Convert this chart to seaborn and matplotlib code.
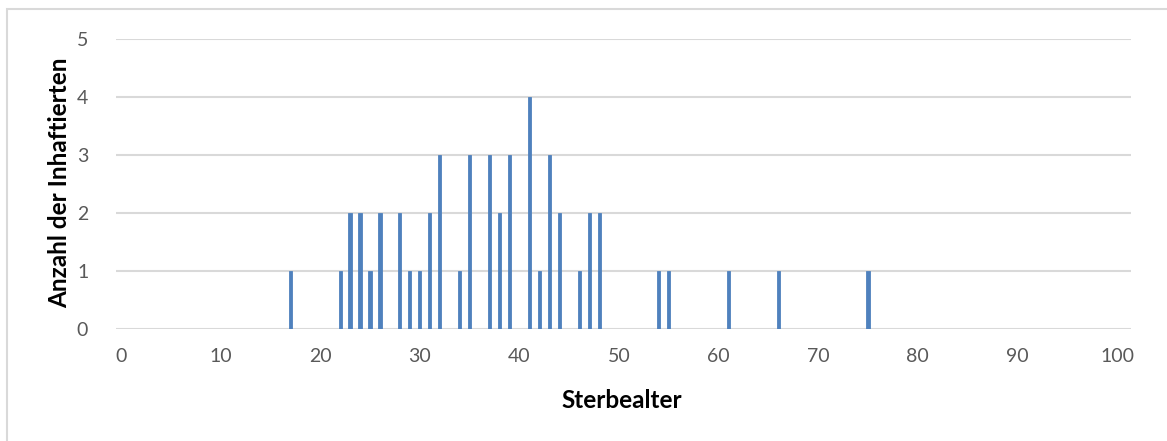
import matplotlib
matplotlib.use("Agg")
import matplotlib.pyplot as plt
import seaborn as sns
import pandas as pd
from matplotlib.patches import Rectangle

ages = [17, 22, 23, 24, 25, 26, 28, 29, 30, 31, 32, 34, 35, 37, 38, 39,
        41, 42, 43, 44, 46, 47, 48, 54, 55, 61, 66, 75]
counts = [1, 1, 2, 2, 1, 2, 2, 1, 1, 2, 3, 1, 3, 3, 2, 3,
          4, 1, 3, 2, 1, 2, 2, 1, 1, 1, 1, 1]
x_ticks = list(range(0, 101, 10))
y_ticks = [0, 1, 2, 3, 4, 5]
x_label = "Sterbealter"
y_label = "Anzahl der Inhaftierten"

sns.set_theme(style="white")
plt.rcParams['font.family'] = ['Lato', 'DejaVu Sans']

W, H = 1167, 441
fig = plt.figure(figsize=(W / 100, H / 100), dpi=100)
ax = fig.add_axes([116 / W, 1 - 329 / H, (1131 - 116) / W, (329 - 39) / H])

df = pd.DataFrame({"age": ages, "count": counts})
sns.barplot(data=df, x="age", y="count", native_scale=True, width=0.32,
            color="#4F81BD", saturation=1, ax=ax, zorder=3,
            edgecolor="#4F81BD", linewidth=0.6)

ax.set_xlim(-0.5, 101.4)
ax.set_ylim(0, 5)
ax.set_xticks(x_ticks)
ax.set_yticks(y_ticks)
ax.set_xticklabels([str(v) for v in x_ticks])
ax.set_yticklabels([str(v) for v in y_ticks])
ax.yaxis.grid(True, color="#D9D9D9", linewidth=1.5, zorder=0)
ax.xaxis.grid(False)
for s in ax.spines.values():
    s.set_visible(False)
ax.tick_params(axis="both", length=0, labelsize=14, labelcolor="#595959")
ax.tick_params(axis="x", pad=14)
ax.tick_params(axis="y", pad=20)
ax.set_xlabel(x_label, fontsize=17.5, fontweight="bold", color="#000000")
ax.set_ylabel(y_label, fontsize=17.5, fontweight="bold", color="#000000")
ax.xaxis.set_label_coords((622 - 116) / (1131 - 116), -(400 - 329) / (329 - 39))
ax.yaxis.set_label_coords(-(116 - 60) / (1131 - 116), (329 - 183) / (329 - 39))
ax.xaxis.label.set_verticalalignment("center")
ax.yaxis.label.set_verticalalignment("center")

fig.patches.append(Rectangle((7 / W, -0.05), 1.2, 1 - 9 / H + 0.05,
                             transform=fig.transFigure, fill=False,
                             edgecolor="#D9D9D9", linewidth=1.5))

fig.savefig("out.png", dpi=100)
